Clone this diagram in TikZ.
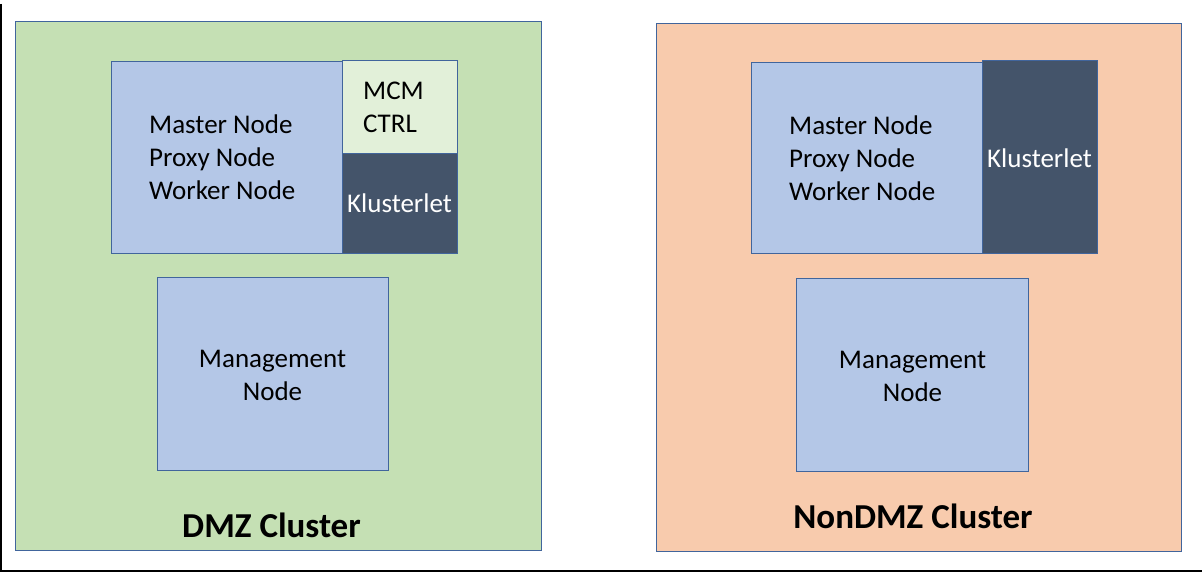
\documentclass[tikz,border=0pt]{standalone}
\usepackage{fontspec}
\setmainfont{Carlito}
\definecolor{dmzgreen}{HTML}{C5E0B4}
\definecolor{nondmzorange}{HTML}{F8CBAD}
\definecolor{nodeblue}{HTML}{B4C7E7}
\definecolor{mcmgreen}{HTML}{E2F0D9}
\definecolor{slate}{HTML}{44546A}
\definecolor{boxline}{HTML}{41659C}
\begin{document}
\begin{tikzpicture}[x=1pt,y=-1pt,
  box/.style={draw=boxline, line width=0.9pt, inner sep=0pt, outer sep=0pt, anchor=north west},
  txt/.style={font=\fontsize{27}{33}\selectfont, inner sep=0pt},
  title/.style={font=\bfseries\fontsize{35}{42}\selectfont, inner sep=0pt}]
\useasboundingbox (0,0) rectangle (1202,572);
\fill[white] (0,0) rectangle (1202,572);
\draw[line width=1.5pt] (0.75,4) -- (0.75,571) -- (1202,571);
% DMZ cluster
\node[box, fill=dmzgreen, minimum width=526, minimum height=529] (dmz) at (15,21) {};
\node[box, fill=nodeblue, minimum width=231, minimum height=192] (dmzmaster) at (111,61) {};
\node[box, fill=mcmgreen, minimum width=115, minimum height=93] (mcm) at (342,60) {};
\node[box, fill=slate, minimum width=115, minimum height=100] (dmzklus) at (342,153) {};
\node[box, fill=nodeblue, minimum width=231, minimum height=193] (dmzmgmt) at (157,277) {};
\node[txt, anchor=west, align=left] (dmzmastertxt) at (149,157) {Master Node\\Proxy Node\\Worker Node};
\node[txt, anchor=west, align=left] (mcmtxt) at (363,107) {MCM\\CTRL};
\node[txt, text=white] (dmzklustxt) at (dmzklus.center) {Klusterlet};
\node[txt, align=center] (dmzmgmttxt) at (272.5,375) {Management\\Node};
\node[title] (dmztitle) at (271.5,525) {DMZ Cluster};
% NonDMZ cluster
\node[box, fill=nondmzorange, minimum width=525, minimum height=528] (nondmz) at (656,23) {};
\node[box, fill=nodeblue, minimum width=231, minimum height=191] (nonmaster) at (751,62) {};
\node[box, fill=slate, minimum width=115, minimum height=193] (nonklus) at (982,60) {};
\node[box, fill=nodeblue, minimum width=232, minimum height=193] (nonmgmt) at (796,278) {};
\node[txt, anchor=west, align=left] (nonmastertxt) at (789,158) {Master Node\\Proxy Node\\Worker Node};
\node[txt, text=white] (nonklustxt) at (1039.5,158) {Klusterlet};
\node[txt, align=center] (nonmgmttxt) at (912.5,376) {Management\\Node};
\node[title] (nontitle) at (913,516) {NonDMZ Cluster};
\end{tikzpicture}
\end{document}
